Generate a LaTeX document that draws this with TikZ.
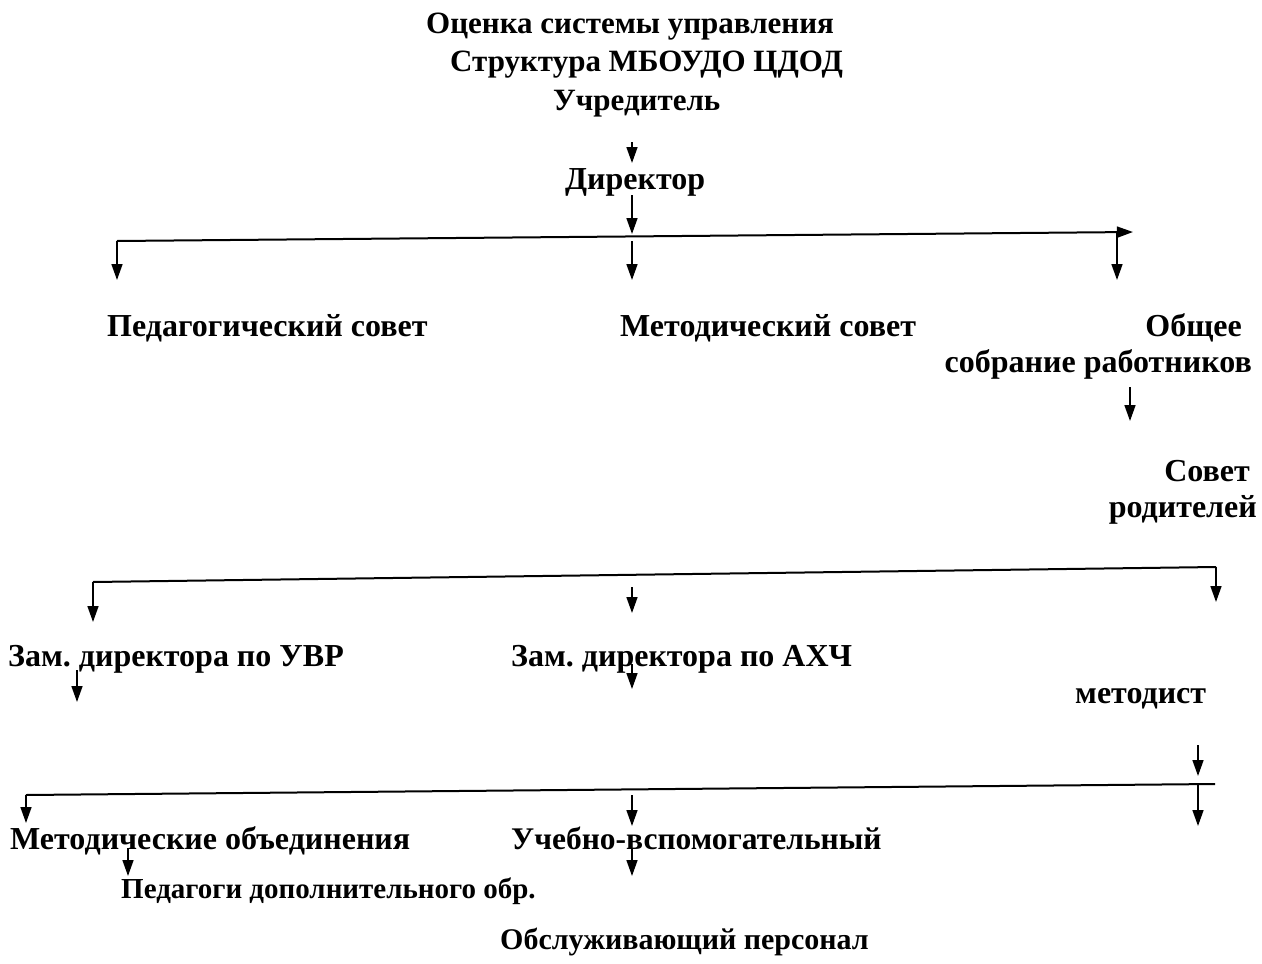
\documentclass[tikz,border=0pt]{standalone}
\usepackage{fontspec}
\setmainfont{Liberation Serif}
\usetikzlibrary{arrows.meta}
\frenchspacing
\begin{document}
\begin{tikzpicture}[x=1pt,y=-1pt,
  lbl/.style={font=\fontsize{32}{36}\selectfont\bfseries, inner sep=0pt, anchor=base west},
  ttl/.style={font=\fontsize{31}{35}\selectfont\bfseries, inner sep=0pt, anchor=base west},
  conn/.style={line width=1.6pt, -{Triangle[length=16pt,width=11pt]}},
  bar/.style={line width=2pt}]
\useasboundingbox (0,0) rectangle (1262,964);
% texts
\node[ttl] (t1) at (426,33) {Оценка системы управления};
\node[ttl] (t2) at (450,71) {Структура МБОУДО ЦДОД};
\node[ttl] (uch) at (553,110) {Учредитель};
\node[lbl] (dir) at (565,189) {Директор};
\node[lbl] (ped) at (107,336) {Педагогический совет};
\node[lbl] (met) at (620,336) {Методический совет};
\node[lbl, anchor=base east] (ob1) at (1242,336) {Общее};
\node[lbl, anchor=base east] (ob2) at (1252,372) {собрание работников};
\node[lbl, anchor=base east] (sov1) at (1250,481) {Совет};
\node[lbl, anchor=base east] (sov2) at (1257,517) {родителей};
\node[lbl] (zuvr) at (8,666) {Зам. директора по УВР};
\node[lbl] (zahch) at (511,666) {Зам. директора по АХЧ};
\node[lbl] (metod) at (1075,703) {методист};
\node[lbl] (mo) at (10,849) {Методические объединения};
\node[lbl, font=\fontsize{31.5}{35}\selectfont\bfseries] (uv) at (511,849) {Учебно-вспомогательный};
\node[lbl, font=\fontsize{29}{33}\selectfont\bfseries] (pdo) at (121,898) {Педагоги дополнительного обр.};
\node[lbl, font=\fontsize{30}{34}\selectfont\bfseries] (obs) at (500,949) {Обслуживающий персонал};
% coordinates
\coordinate (a1s) at (632,142); \coordinate (a1e) at (632,163);
\coordinate (a2s) at (632,195); \coordinate (a2e) at (632,234);
\coordinate (b1l) at (117,241); \coordinate (b1r) at (1133,232);
\coordinate (d1s) at (632,241); \coordinate (d1e) at (632,280);
\coordinate (d2s) at (1117,233); \coordinate (d2e) at (1117,280);
\coordinate (d0e) at (117,280);
\coordinate (a3s) at (1130,387); \coordinate (a3e) at (1130,421);
\coordinate (b2l) at (93,582); \coordinate (b2r) at (1216,567);
\coordinate (d3e) at (93,622); \coordinate (d4e) at (1216,602);
\coordinate (a4s) at (632,587); \coordinate (a4e) at (632,613);
\coordinate (a5s) at (77,670); \coordinate (a5e) at (77,702);
\coordinate (a6s) at (632,664); \coordinate (a6e) at (632,689);
\coordinate (a7s) at (1198,745); \coordinate (a7e) at (1198,776);
\coordinate (b3l) at (26,795); \coordinate (b3r) at (1215,784);
\coordinate (d5e) at (26,823);
\coordinate (d6s) at (1198,785); \coordinate (d6e) at (1198,826);
\coordinate (a8s) at (632,795); \coordinate (a8e) at (632,826);
\coordinate (a9s) at (128,848); \coordinate (a9e) at (128,876);
\coordinate (a10s) at (632,848); \coordinate (a10e) at (632,876);
% connectors
\draw[conn] (a1s) -- (a1e);
\draw[conn] (a2s) -- (a2e);
\draw[bar, -{Triangle[length=16pt,width=11pt]}] (b1l) -- (b1r);
\draw[conn] (b1l) -- (d0e);
\draw[conn] (d1s) -- (d1e);
\draw[conn] (d2s) -- (d2e);
\draw[conn] (a3s) -- (a3e);
\draw[bar] (b2l) -- (b2r);
\draw[conn] (b2l) -- (d3e);
\draw[conn] (b2r) -- (d4e);
\draw[conn] (a4s) -- (a4e);
\draw[conn] (a5s) -- (a5e);
\draw[conn] (a6s) -- (a6e);
\draw[conn] (a7s) -- (a7e);
\draw[bar] (b3l) -- (b3r);
\draw[conn] (b3l) -- (d5e);
\draw[conn] (d6s) -- (d6e);
\draw[conn] (a8s) -- (a8e);
\draw[conn] (a9s) -- (a9e);
\draw[conn] (a10s) -- (a10e);
\end{tikzpicture}
\end{document}
